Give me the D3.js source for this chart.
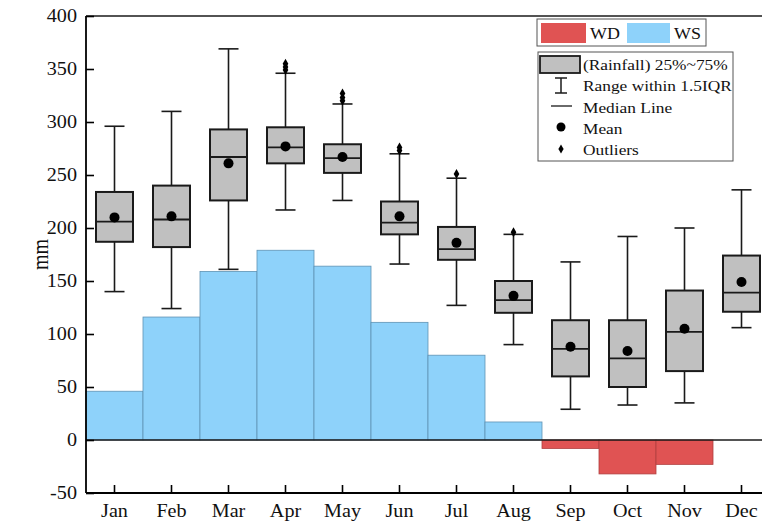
<!DOCTYPE html>
<html>
<head>
<meta charset="utf-8">
<script src="https://cdn.jsdelivr.net/npm/d3@7"></script>
<style>
    body { margin: 0; background: #fff; }
    svg text { font-family: "Liberation Serif", "Times New Roman", serif; fill: #111; }
</style>
</head>
<body>
<div id="chart"></div>
<script>
// months and the water surplus / deficit bars
let months = ["Jan", "Feb", "Mar", "Apr", "May", "Jun", "Jul", "Aug", "Sep", "Oct", "Nov", "Dec"];
let wsValues = [46, 116, 159, 179, 164, 111, 80, 17, 0, 0, 0, 0];
let wdValues = [0, 0, 0, 0, 0, 0, 0, 0, -8, -32, -23, 0];

// rainfall box plot stats per month
let whiskerLow = [140, 124, 161, 217, 226, 166, 127, 90, 29, 33, 35, 106];
let q1 = [187, 182, 226, 261, 252, 194, 170, 120, 60, 50, 65, 121];
let median = [206, 208, 267, 276, 266, 205, 180, 132, 86, 77, 102, 139];
let q3 = [234, 240, 293, 295, 279, 225, 201, 150, 113, 113, 141, 174];
let whiskerHigh = [296, 310, 369, 346, 317, 270, 247, 194, 168, 192, 200, 236];
let mean = [210, 211, 261, 277, 267, 211, 186, 136, 88, 84, 105, 149];
let outliers = [[], [], [], [349, 352, 355], [320, 323, 327], [273, 276], [251], [196], [], [], [], []];

let yTicks = [-50, 0, 50, 100, 150, 200, 250, 300, 350, 400];

(function () {
    let width = 762, height = 526;
    let left = 86, right = 770, top = 16, bottom = 493;
    let blue = "#8ED2FA", red = "#E05353", boxFill = "#C0C0C0", ink = "#1a1a1a";
    // the source type is a bit wider than Liberation Serif
    let stretch = 1.12;
    let place = (px, py) => "translate(" + px + "," + py + ") scale(" + stretch + ",1)";

    let svg = d3.select("#chart").append("svg")
        .attr("width", width)
        .attr("height", height);

    let x = d3.scaleBand().domain(months).range([left, right]).padding(0);
    let y = d3.scaleLinear().domain([-50, 400]).range([bottom, top]);
    let cx = m => x(m) + x.bandwidth() / 2;
    let boxW = 37, capW = 20;

    // WS / WD bars
    let bars = svg.append("g");
    bars.selectAll(".ws")
        .data(months.filter((m, i) => wsValues[i] > 0))
        .enter().append("rect")
        .attr("class", "ws")
        .attr("x", m => x(m))
        .attr("width", x.bandwidth())
        .attr("y", m => y(wsValues[months.indexOf(m)]))
        .attr("height", m => y(0) - y(wsValues[months.indexOf(m)]))
        .attr("fill", blue)
        .attr("stroke", "#5f93b4")
        .attr("stroke-width", 0.8);
    bars.selectAll(".wd")
        .data(months.filter((m, i) => wdValues[i] < 0))
        .enter().append("rect")
        .attr("class", "wd")
        .attr("x", m => x(m))
        .attr("width", x.bandwidth())
        .attr("y", y(0))
        .attr("height", m => y(wdValues[months.indexOf(m)]) - y(0))
        .attr("fill", red)
        .attr("stroke", "#b04040")
        .attr("stroke-width", 0.8);

    // zero line
    svg.append("line")
        .attr("x1", left).attr("x2", width)
        .attr("y1", y(0)).attr("y2", y(0))
        .attr("stroke", ink).attr("stroke-width", 1.6);

    // boxes
    let boxes = svg.append("g").selectAll("g")
        .data(months)
        .enter().append("g");
    boxes.append("line")
        .attr("x1", cx).attr("x2", cx)
        .attr("y1", (m, i) => y(whiskerHigh[i]))
        .attr("y2", (m, i) => y(whiskerLow[i]))
        .attr("stroke", ink).attr("stroke-width", 1.6);
    [whiskerHigh, whiskerLow].forEach(arr => {
        boxes.append("line")
            .attr("x1", m => cx(m) - capW / 2).attr("x2", m => cx(m) + capW / 2)
            .attr("y1", (m, i) => y(arr[i])).attr("y2", (m, i) => y(arr[i]))
            .attr("stroke", ink).attr("stroke-width", 1.6);
    });
    boxes.append("rect")
        .attr("x", m => cx(m) - boxW / 2)
        .attr("width", boxW)
        .attr("y", (m, i) => y(q3[i]))
        .attr("height", (m, i) => y(q1[i]) - y(q3[i]))
        .attr("fill", boxFill)
        .attr("stroke", ink).attr("stroke-width", 2);
    boxes.append("line")
        .attr("x1", m => cx(m) - boxW / 2).attr("x2", m => cx(m) + boxW / 2)
        .attr("y1", (m, i) => y(median[i])).attr("y2", (m, i) => y(median[i]))
        .attr("stroke", ink).attr("stroke-width", 1.8);
    boxes.append("circle")
        .attr("cx", cx)
        .attr("cy", (m, i) => y(mean[i]))
        .attr("r", 5)
        .attr("fill", "#000");
    boxes.selectAll(".outlier")
        .data((m, i) => outliers[i].map(v => ({ m: m, v: v })))
        .enter().append("path")
        .attr("class", "outlier")
        .attr("d", d3.symbol().type(d3.symbolDiamond).size(28))
        .attr("transform", d => "translate(" + cx(d.m) + "," + y(d.v) + ")")
        .attr("fill", "#000");

    // frame and axes
    svg.append("line")
        .attr("x1", left).attr("x2", width).attr("y1", top).attr("y2", top)
        .attr("stroke", ink).attr("stroke-width", 1.6);
    let yAxis = svg.append("g")
        .attr("transform", "translate(" + left + ",0)")
        .call(d3.axisRight(y).tickValues(yTicks).tickSize(8).tickFormat(""));
    yAxis.select(".domain").attr("stroke-width", 1.8).attr("d", "M0," + top + "V" + bottom);
    yAxis.selectAll(".tick line").attr("stroke-width", 1.6);
    svg.append("g").selectAll("text")
        .data(yTicks)
        .enter().append("text")
        .attr("transform", d => place(left - 9, y(d)))
        .attr("dy", "0.35em")
        .attr("text-anchor", "end")
        .attr("font-size", 18)
        .text(d => d);

    let xAxis = svg.append("g")
        .attr("transform", "translate(0," + bottom + ")")
        .call(d3.axisTop(x).tickSize(8).tickFormat(""));
    xAxis.select(".domain").attr("stroke-width", 1.8).attr("d", "M" + left + ",0H" + width);
    xAxis.selectAll(".tick line").attr("stroke-width", 1.6);
    svg.append("g").selectAll("text")
        .data(months)
        .enter().append("text")
        .attr("transform", d => place(cx(d), bottom + 24))
        .attr("text-anchor", "middle")
        .attr("font-size", 18)
        .text(d => d);

    svg.append("text")
        .attr("transform", "translate(48," + ((top + bottom) / 2) + ") rotate(-90) scale(1,1.12)")
        .attr("text-anchor", "middle")
        .attr("font-size", 20)
        .text("mm");

    // legend: WD / WS
    let lg1 = svg.append("g");
    lg1.append("rect")
        .attr("x", 537).attr("y", 19).attr("width", 169).attr("height", 27)
        .attr("fill", "#fff").attr("stroke", "#555").attr("stroke-width", 1);
    lg1.append("rect").attr("x", 541).attr("y", 23).attr("width", 45).attr("height", 20).attr("fill", red);
    lg1.append("text").attr("transform", place(590, 39)).attr("font-size", 16).text("WD");
    lg1.append("rect").attr("x", 627).attr("y", 23).attr("width", 43).attr("height", 20).attr("fill", blue);
    lg1.append("text").attr("transform", place(674, 39)).attr("font-size", 16).text("WS");

    // legend: box plot keys
    let lg2 = svg.append("g");
    lg2.append("rect")
        .attr("x", 538).attr("y", 52).attr("width", 195).attr("height", 109)
        .attr("fill", "#fff").attr("stroke", "#555").attr("stroke-width", 1);
    let keyX = 561, textX = 583;
    lg2.append("rect").attr("x", 540).attr("y", 56).attr("width", 40).attr("height", 17)
        .attr("fill", boxFill).attr("stroke", ink).attr("stroke-width", 1.8);
    lg2.append("line").attr("x1", keyX).attr("x2", keyX).attr("y1", 78).attr("y2", 93)
        .attr("stroke", ink).attr("stroke-width", 1.5);
    lg2.append("line").attr("x1", keyX - 6).attr("x2", keyX + 6).attr("y1", 78).attr("y2", 78)
        .attr("stroke", ink).attr("stroke-width", 1.5);
    lg2.append("line").attr("x1", keyX - 6).attr("x2", keyX + 6).attr("y1", 93).attr("y2", 93)
        .attr("stroke", ink).attr("stroke-width", 1.5);
    lg2.append("line").attr("x1", keyX - 10).attr("x2", keyX + 11).attr("y1", 106).attr("y2", 106)
        .attr("stroke", ink).attr("stroke-width", 1.3);
    lg2.append("circle").attr("cx", keyX).attr("cy", 127).attr("r", 4.5).attr("fill", "#000");
    lg2.append("path").attr("d", d3.symbol().type(d3.symbolDiamond).size(24))
        .attr("transform", "translate(" + keyX + ",149)").attr("fill", "#000");
    let keys = ["(Rainfall) 25%~75%", "Range within 1.5IQR", "Median Line", "Mean", "Outliers"];
    lg2.selectAll(".key")
        .data(keys)
        .enter().append("text")
        .attr("class", "key")
        .attr("transform", (d, i) => place(textX, 70 + i * 21.3))
        .attr("font-size", 15.5)
        .text(d => d);
})();
</script>
</body>
</html>
